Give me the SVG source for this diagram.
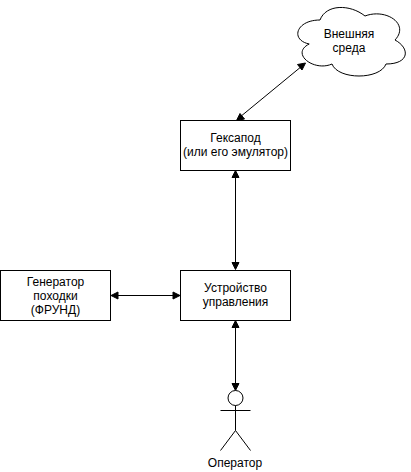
<svg xmlns="http://www.w3.org/2000/svg" width="411" height="472" viewBox="0 0 411 472">
<style>
.s{fill:#fff;stroke:#000;stroke-width:1}
.c{fill:none;stroke:#000;stroke-width:1}
.h{fill:#000;stroke:#000;stroke-width:1}
text{font-family:"Liberation Sans",Arial,sans-serif;font-size:12px;fill:#000;text-anchor:middle}
</style>
<rect width="411" height="472" fill="#fff"/>
<g id="connectors">
<path class="c" d="M240 117L302 66"/>
<path class="h" d="M236.500 120.500L240 113.500L244.500 119Z"/>
<path class="h" d="M305.500 63L302 70L297.500 64.500Z"/>
<path class="c" d="M235.500 175V265"/>
<path class="h" d="M235.500 170.500L239 177.500H232Z"/>
<path class="h" d="M235.500 269.500L232 262.500H239Z"/>
<path class="c" d="M115 295.500H176"/>
<path class="h" d="M111 295.500L118 292V299Z"/>
<path class="h" d="M180 295.500L173 299V292Z"/>
<path class="c" d="M235.500 325V386"/>
<path class="h" d="M235.500 320.500L239 327.500H232Z"/>
<path class="h" d="M235.500 390.500L232 383.500H239Z"/>
</g>
<g id="cloud">
<path class="s" d="M320 20C296 20 290 40 309.200 44C290 53.600 314 72 332 64C338 80 380 80 386 64C410 64 410 48 395 40C410 24 386 8 365 16C350 4 326 4 320 20Z"/>
<text x="349" y="38">Внешняя</text><text x="349" y="52">среда</text>
</g>
<g id="hexapod">
<rect class="s" x="180.500" y="120.500" width="110" height="50"/>
<text x="235.500" y="142">Гексапод</text><text x="235.500" y="156">(или его эмулятор)</text>
</g>
<g id="generator">
<rect class="s" x="0.500" y="270.500" width="110" height="50"/>
<text x="55.500" y="286">Генератор</text><text x="55.500" y="300">походки</text><text x="55.500" y="314">(ФРУНД)</text>
</g>
<g id="controller">
<rect class="s" x="180.500" y="270.500" width="110" height="50"/>
<text x="235.500" y="292">Устройство</text><text x="235.500" y="306">управления</text>
</g>
<g id="operator">
<circle class="s" cx="235.500" cy="398" r="7.500"/>
<path class="c" d="M235.500 405.500V430.500M220.500 410.500H250.500M220.500 450.500L235.500 430.500L250.500 450.500"/>
<text x="235" y="467">Оператор</text>
</g>
</svg>
